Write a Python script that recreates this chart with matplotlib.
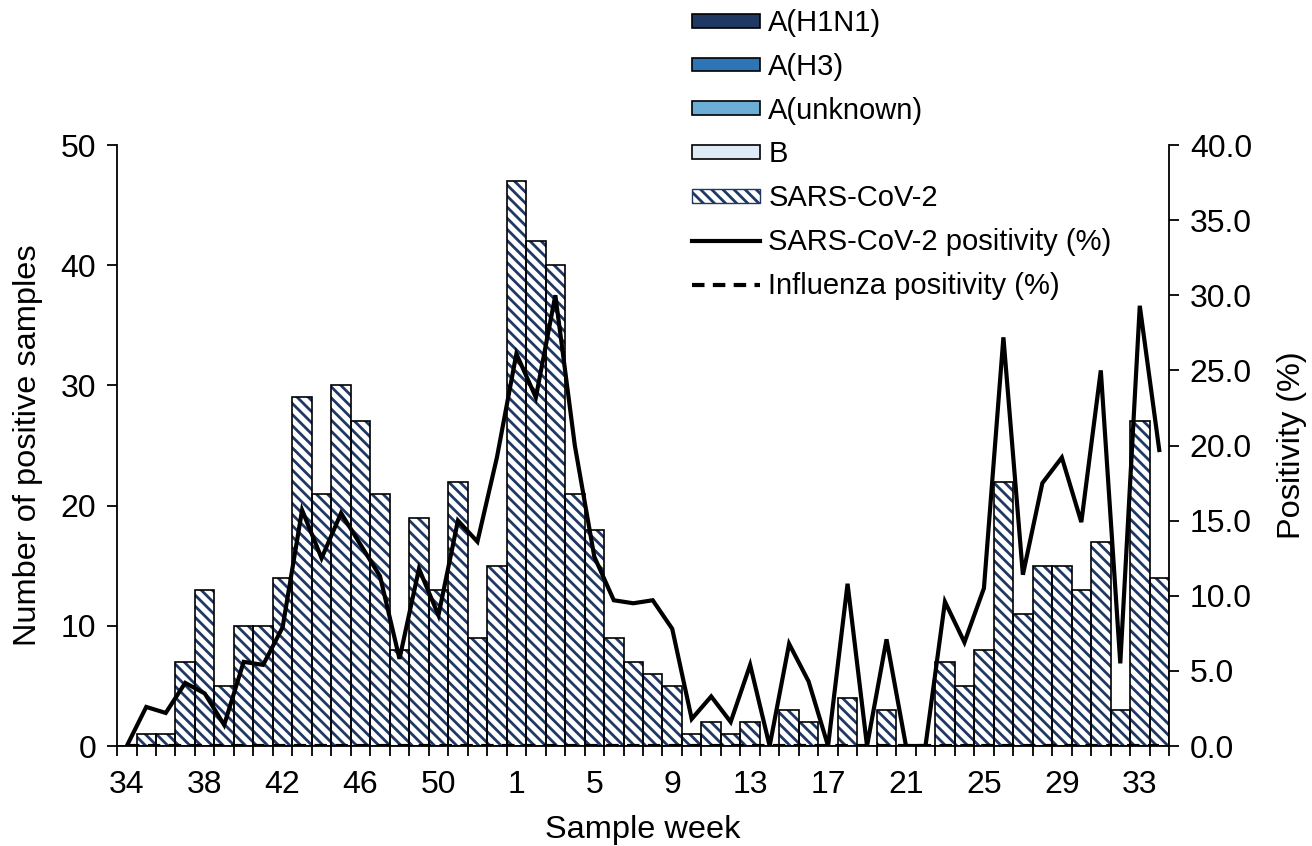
import matplotlib
matplotlib.use("Agg")
from matplotlib import pyplot as plt
from matplotlib.patches import Patch
from matplotlib.lines import Line2D
import numpy as np

plt.rcParams["font.family"] = ["Liberation Sans", "DejaVu Sans"]
plt.rcParams["hatch.linewidth"] = 2.0

# sample weeks: 2020 week 34 .. 53, then 2021 week 1 .. 34
weeks = list(range(34, 54)) + list(range(1, 35))

h1n1 = [0, 0, 0, 0, 0, 0, 0, 0, 0, 0, 0, 0, 0, 0, 0, 0, 0, 0, 0, 0, 0, 0, 0, 0, 0, 0, 0,
        0, 0, 0, 0, 0, 0, 0, 0, 0, 0, 0, 0, 0, 0, 0, 0, 0, 0, 0, 0, 0, 0, 0, 0, 0, 0, 0]
h3 = [0, 0, 0, 0, 0, 0, 0, 0, 0, 0, 0, 0, 0, 0, 0, 0, 0, 0, 0, 0, 0, 0, 0, 0, 0, 0, 0,
      0, 0, 0, 0, 0, 0, 0, 0, 0, 0, 0, 0, 0, 0, 0, 0, 0, 0, 0, 0, 0, 0, 0, 0, 0, 0, 0]
a_unknown = [0, 0, 0, 0, 0, 0, 0, 0, 0, 0, 0, 0, 0, 0, 0, 0, 0, 0, 0, 0, 0, 0, 0, 0, 0, 0, 0,
             0, 0, 0, 0, 0, 0, 0, 0, 0, 0, 0, 0, 0, 0, 0, 0, 0, 0, 0, 0, 0, 0, 0, 0, 0, 0, 0]
flu_b = [0, 0, 0, 0, 0, 0, 0, 0, 0, 0, 0, 0, 0, 0, 0, 0, 0, 0, 0, 0, 0, 0, 0, 0, 0, 0, 0,
         0, 0, 0, 0, 0, 0, 0, 0, 0, 0, 0, 0, 0, 0, 0, 0, 0, 0, 0, 0, 0, 0, 0, 0, 0, 0, 0]
sars = [0, 1, 1, 7, 13, 5, 10, 10, 14, 29, 21, 30, 27, 21, 8, 19, 13, 22, 9, 15,
        47, 42, 40, 21, 18, 9, 7, 6, 5, 1, 2, 1, 2, 0, 3, 2, 0, 4, 0, 3,
        0, 0, 7, 5, 8, 22, 11, 15, 15, 13, 17, 3, 27, 14]

sars_pos = [0.0, 2.6, 2.2, 4.2, 3.5, 1.4, 5.6, 5.4, 7.9, 15.7, 12.5, 15.5, 13.4, 11.3,
            5.8, 11.8, 8.7, 15.0, 13.6, 19.2, 26.1, 23.2, 30.0, 20.0, 12.6, 9.7, 9.5,
            9.7, 7.8, 1.8, 3.3, 1.6, 5.4, 0.0, 6.8, 4.3, 0.0, 10.8, 0.0, 7.1, 0.0, 0.0,
            9.6, 6.9, 10.5, 27.2, 11.4, 17.5, 19.2, 14.9, 25.0, 5.5, 29.3, 19.7]
flu_pos = [0.0, 0.0, 0.0, 0.0, 0.0, 0.0, 0.0, 0.0, 0.0, 0.0, 0.0, 0.0, 0.0, 0.0, 0.0,
           0.0, 0.0, 0.0, 0.0, 0.0, 0.0, 0.0, 0.0, 0.0, 0.0, 0.0, 0.0, 0.0, 0.0, 0.0,
           0.0, 0.0, 0.0, 0.0, 0.0, 0.0, 0.0, 0.0, 0.0, 0.0, 0.0, 0.0, 0.0, 0.0, 0.0,
           0.0, 0.0, 0.0, 0.0, 0.0, 0.0, 0.0, 0.0, 0.0]

navy = "#1f3864"
flu_colors = {"A(H1N1)": "#203864", "A(H3)": "#2e75b6",
              "A(unknown)": "#6baed6", "B": "#deebf7"}
stripes = "\\\\\\"

x = np.arange(len(weeks))

fig = plt.figure(figsize=(13.12, 8.46), dpi=100)
ax = fig.add_axes([0.0892, 0.1182, 0.8018, 0.7104])
ax2 = ax.twinx()

# stacked influenza columns, then SARS-CoV-2 on top
bottom = np.zeros(len(weeks))
for name, vals in zip(flu_colors, [h1n1, h3, a_unknown, flu_b]):
    ax.bar(x, vals, width=1.0, bottom=bottom, color=flu_colors[name],
           edgecolor="black", linewidth=1.2)
    bottom = bottom + np.array(vals)

ax.bar(x, sars, width=1.0, bottom=bottom, color="white", edgecolor=navy,
       hatch=stripes, linewidth=0)
ax.bar(x, sars, width=1.0, bottom=bottom, fill=False, edgecolor="black",
       linewidth=1.2)

ax2.plot(x, sars_pos, color="black", linewidth=3.0, solid_joinstyle="miter")
ax2.plot(x, flu_pos, color="black", linewidth=3.0, linestyle=(0, (3, 2)))

ax.set_xlim(-0.5, len(weeks) - 0.5)
ax.set_ylim(0, 50)
ax2.set_ylim(0, 40)
ax.set_yticks(np.arange(0, 51, 10))
ax2.set_yticks(np.arange(0, 41, 5))
ax2.set_yticklabels([f"{v:.1f}" for v in np.arange(0, 41, 5)])

# tick marks between weeks, labels every fourth week
ax.set_xticks(np.arange(-0.5, len(weeks), 1.0))
ax.set_xticklabels([])
ax.set_xticks(x[::4], minor=True)
ax.set_xticklabels([str(weeks[i]) for i in x[::4]], minor=True)
ax.tick_params(axis="x", which="major", direction="out", length=7, width=1.3)
ax.tick_params(axis="x", which="minor", length=0, pad=17, labelsize=23)
ax.tick_params(axis="y", direction="out", length=7, width=1.3, labelsize=23, pad=8)
ax2.tick_params(axis="y", direction="out", length=7, width=1.3, labelsize=23, pad=8)

for a in (ax, ax2):
    a.spines["top"].set_visible(False)
    for s in ("left", "right", "bottom"):
        a.spines[s].set_linewidth(1.3)
ax.spines["right"].set_visible(False)
ax2.spines["left"].set_visible(False)
ax2.spines["bottom"].set_visible(False)

ax.set_xlabel("Sample week", fontsize=23.4, labelpad=11)
ax.set_ylabel("Number of positive samples", fontsize=23.4, labelpad=13)
ax2.set_ylabel("Positivity (%)", fontsize=23.4, labelpad=18)

handles = [Patch(facecolor=c, edgecolor="black", linewidth=1.2) for c in flu_colors.values()]
handles.append(Patch(facecolor="white", edgecolor=navy, hatch=stripes, linewidth=1.0))
handles.append(Line2D([], [], color="black", linewidth=3.0))
handles.append(Line2D([], [], color="black", linewidth=3.0, linestyle=(0, (3, 2))))
labels = list(flu_colors) + ["SARS-CoV-2", "SARS-CoV-2 positivity (%)",
                             "Influenza positivity (%)"]
fig.legend(handles, labels, loc="upper left", bbox_to_anchor=(0.523, 0.996),
           frameon=False, fontsize=21, handlelength=2.34, handleheight=0.36,
           handletextpad=0.28, labelspacing=0.54, borderpad=0.2,
           borderaxespad=0)

fig.savefig("out.png", dpi=100)
